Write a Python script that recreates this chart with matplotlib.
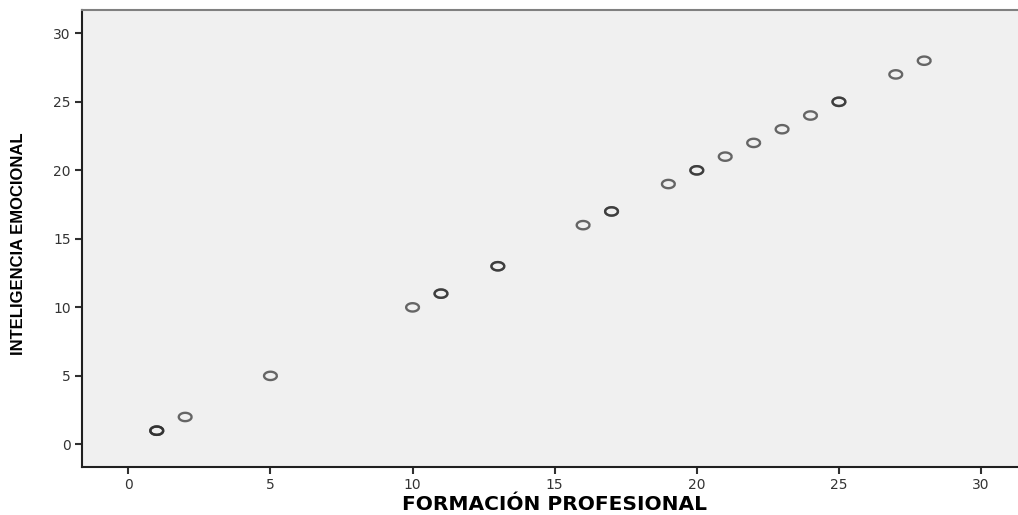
import numpy as np
import matplotlib.pyplot as plt
from matplotlib.path import Path

# formación profesional vs inteligencia emocional (repeated pairs drawn twice)
formacion = [1, 1, 1, 2, 5, 10, 11, 11, 13, 13, 16, 17, 17, 19, 20, 20, 21, 22, 23, 24, 25, 25, 27, 28]
inteligencia = [1, 1, 1, 2, 5, 10, 11, 11, 13, 13, 16, 17, 17, 19, 20, 20, 21, 22, 23, 24, 25, 25, 27, 28]
ticks = [0, 5, 10, 15, 20, 25, 30]

# slightly flattened ring, like the SPSS marker
t = np.linspace(0, 2 * np.pi, 60)
ring = Path(np.column_stack([np.cos(t), 0.65 * np.sin(t)]))

fig = plt.figure(figsize=(10.18, 5.15), dpi=100)
ax = fig.add_axes([82 / 1018, 1 - 467 / 515, 1 - 82 / 1018, 457 / 515])
ax.set_facecolor('#f0f0f0')

ax.scatter(formacion, inteligencia, marker=ring, s=85, facecolors='none',
           edgecolors='#303030', linewidths=1.7, alpha=0.72, zorder=3)

ax.set_xlim(-1.63, 31.3)
ax.set_ylim(-1.65, 31.7)
ax.set_xticks(ticks)
ax.set_yticks(ticks)
ax.tick_params(direction='out', length=5, width=1.5, color='#303030',
               labelsize=10, labelcolor='#333333', pad=3)

ax.spines['right'].set_visible(False)
ax.spines['top'].set_color('#808080')
ax.spines['top'].set_linewidth(1.5)
for side in ['left', 'bottom']:
    ax.spines[side].set_color('#202020')
    ax.spines[side].set_linewidth(1.5)

for lab in ax.get_xticklabels() + ax.get_yticklabels():
    lab.set_family(['DejaVu Sans'])

fig.text(554 / 1018, 1 - 504 / 515, 'FORMACIÓN PROFESIONAL', ha='center', va='center',
         fontsize=14.5, fontweight='bold', family=['DejaVu Sans'])
fig.text(19 / 1018, 1 - 244 / 515, 'INTELIGENCIA EMOCIONAL', ha='center', va='center',
         rotation=90, fontsize=12, fontweight='bold',
         family=['Liberation Sans Narrow', 'Liberation Sans', 'DejaVu Sans'])

fig.savefig('out.png', dpi=100)
